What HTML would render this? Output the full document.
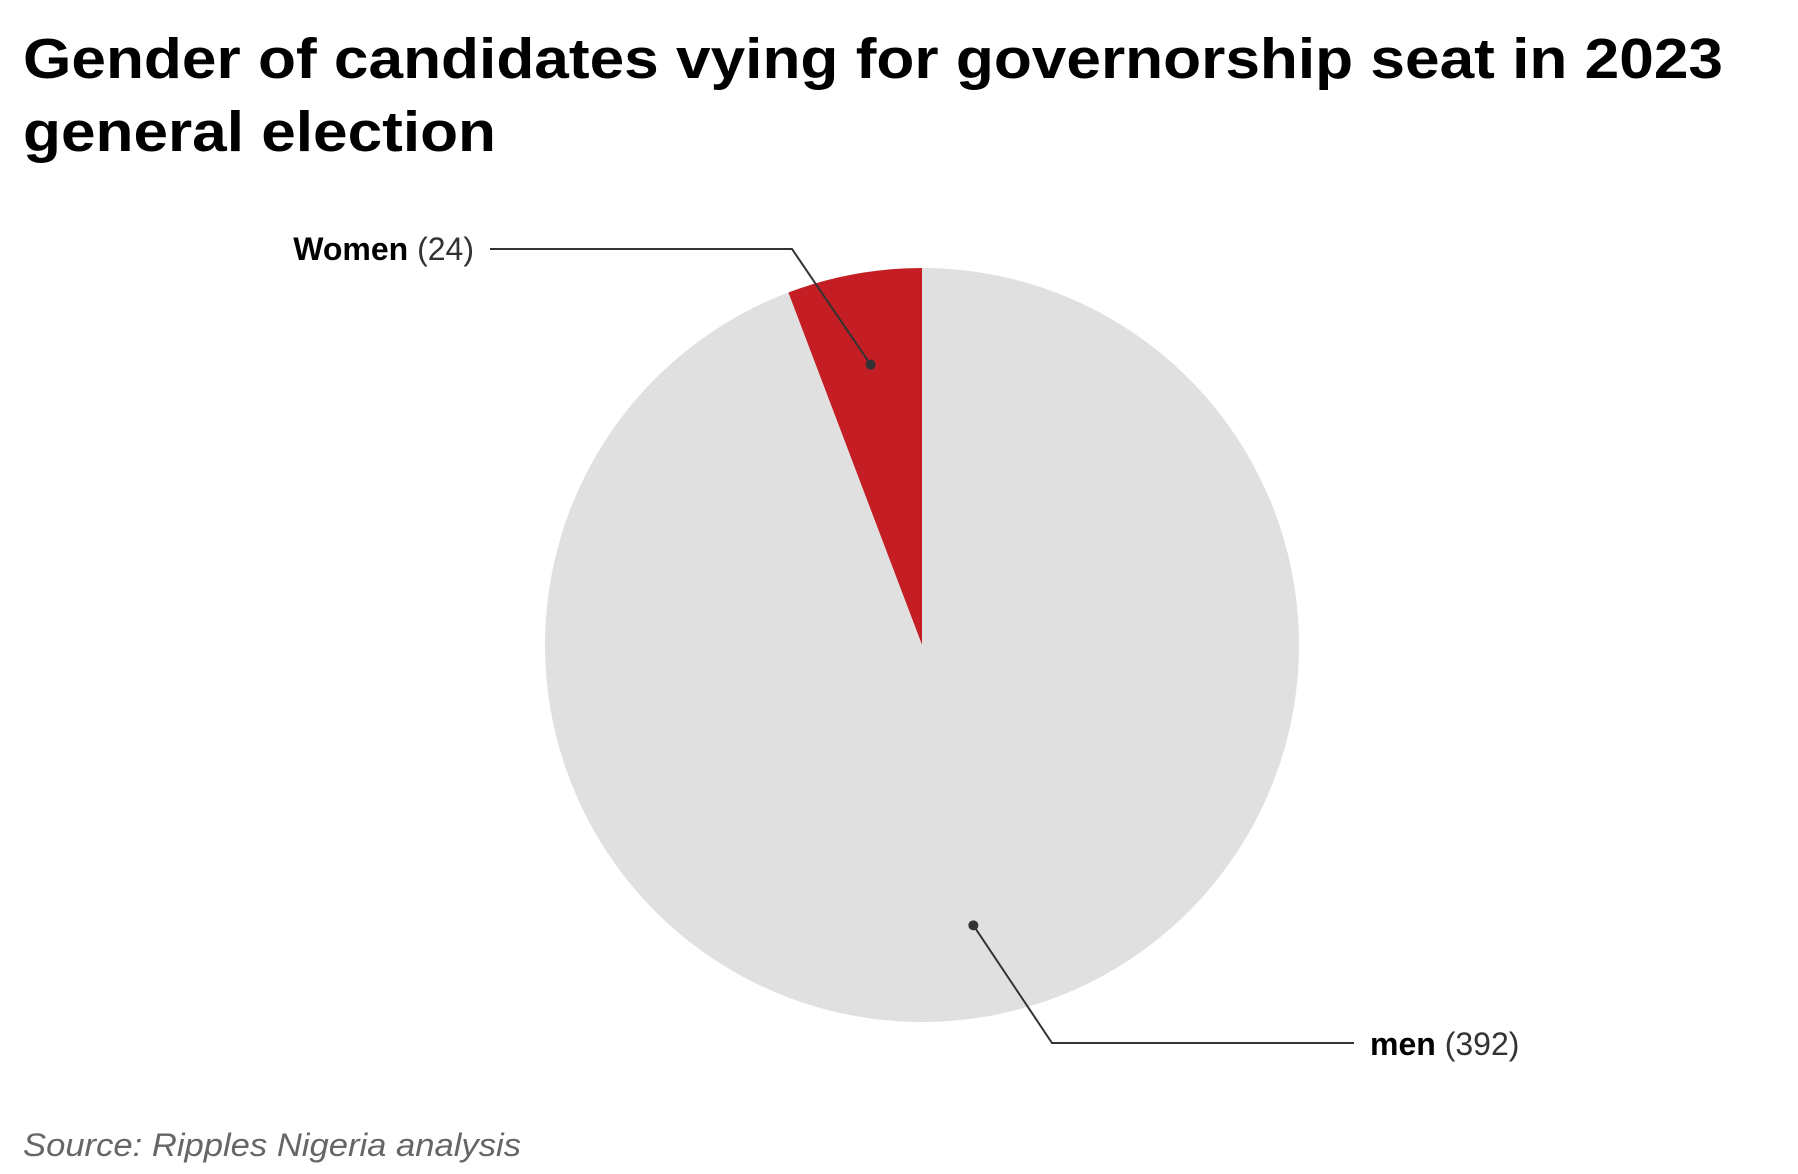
<!DOCTYPE html>
<html><head><meta charset="utf-8"><style>
html,body{margin:0;padding:0;background:#fff;}
svg{display:block;font-family:"Liberation Sans",Arial,sans-serif;}
</style></head><body>
<svg id="chart" width="1798" height="1174" viewBox="0 0 1798 1174">
<text x="23" y="78" font-size="57" font-weight="bold" fill="#000" textLength="1700" lengthAdjust="spacingAndGlyphs">Gender of candidates vying for governorship seat in 2023</text>
<text x="23" y="151" font-size="57" font-weight="bold" fill="#000" textLength="473" lengthAdjust="spacingAndGlyphs">general election</text>
<g id="slices"></g>
<g id="labels"></g>
<text x="23" y="1156" font-size="32" font-style="italic" fill="#666" textLength="498" lengthAdjust="spacingAndGlyphs">Source: Ripples Nigeria analysis</text>
</svg>
<script>
const categories = ["Women", "men"];
const values = [24, 392];
const colors = ["#c41e24", "#e0e0e0"];
const cx = 922, cy = 645, r = 377;
const NS = "http://www.w3.org/2000/svg";
const total = values.reduce((a,b)=>a+b,0);
const gS = document.getElementById('slices');
const gL = document.getElementById('labels');
// slices go counter-clockwise from top: Women first to the left of 12 o'clock
let start = 0;
const mids = [];
for (let i = 0; i < values.length; i++) {
  const sweep = values[i] / total * 2 * Math.PI;
  const a0 = -start, a1 = -(start + sweep);
  const p = (a) => [cx + r * Math.sin(a), cy - r * Math.cos(a)];
  const [x0,y0] = p(a0), [x1,y1] = p(a1);
  const large = sweep > Math.PI ? 1 : 0;
  const path = document.createElementNS(NS, 'path');
  path.setAttribute('d', `M${cx},${cy} L${x0},${y0} A${r},${r} 0 ${large} 0 ${x1},${y1} Z`);
  path.setAttribute('fill', colors[i]);
  
  
  gS.appendChild(path);
  mids.push(-(start + sweep / 2));
  start += sweep;
}
function label(i, dotR, elbow, endX, textX, textY, anchor) {
  const a = mids[i];
  const dx = cx + dotR * Math.sin(a), dy = cy - dotR * Math.cos(a);
  const line = document.createElementNS(NS, 'polyline');
  line.setAttribute('points', `${dx},${dy} ${elbow[0]},${elbow[1]} ${endX},${elbow[1]}`);
  line.setAttribute('fill', 'none');
  line.setAttribute('stroke', '#333');
  line.setAttribute('stroke-width', '2');
  
  
  gL.appendChild(line);
  const dot = document.createElementNS(NS, 'circle');
  dot.setAttribute('cx', dx); dot.setAttribute('cy', dy); dot.setAttribute('r', 5);
  dot.setAttribute('fill', '#333');
  
  
  gL.appendChild(dot);
  const t = document.createElementNS(NS, 'text');
  t.setAttribute('x', textX); t.setAttribute('y', textY);
  t.setAttribute('font-size', '32'); t.setAttribute('text-anchor', anchor);
  t.setAttribute('fill', '#000');
  
  
  const b = document.createElementNS(NS, 'tspan');
  b.setAttribute('font-weight', 'bold'); b.textContent = categories[i];
  const v = document.createElementNS(NS, 'tspan');
  v.setAttribute('fill', '#333'); v.textContent = ' (' + values[i] + ')';
  t.appendChild(b); t.appendChild(v);
  gL.appendChild(t);
}
label(0, 285, [792, 249], 490, 474, 260, 'end');
label(1, 285, [1052, 1043], 1354, 1370, 1055, 'start');
</script>
</body></html>
